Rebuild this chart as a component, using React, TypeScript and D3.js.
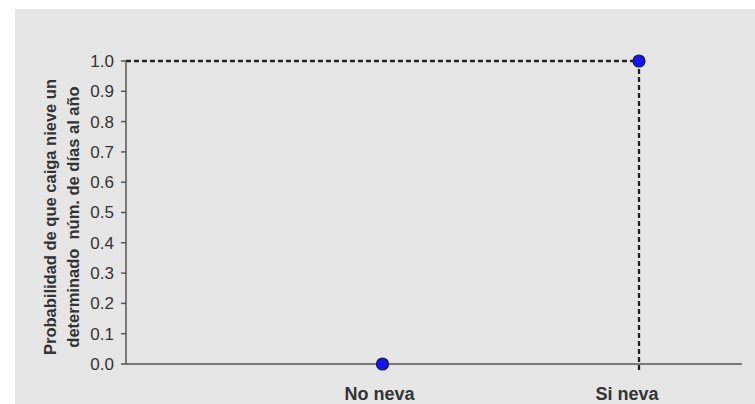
import React from "react";
import * as d3 from "d3";

const categories = ["", "No neva", "Si neva"];
const values = [null, 0, 1];
const yTicks = [0, 0.1, 0.2, 0.3, 0.4, 0.5, 0.6, 0.7, 0.8, 0.9, 1.0];
const yLabelLines = ["Probabilidad de que caiga nieve un", "determinado  núm. de días al año"];

export default function App() {
  const W = 755, H = 404;
  const x0 = 126, xEnd = 742, yTop = 61, yBot = 364;
  const x = d3.scalePoint<string>().domain(categories).range([x0, 639]);
  const y = d3.scaleLinear().domain([0, 1]).range([yBot, yTop]);
  const labelDx = [0, -3, -12];
  const pts = categories
    .map((c, i) => ({ c, v: values[i], i }))
    .filter((d) => d.v !== null) as { c: string; v: number; i: number }[];
  const top = pts.find((d) => d.v === 1)!;
  const axisColor = "#555";
  const textColor = "#333";
  return (
    <div style={{ position: "absolute", left: 0, top: 0 }}>
      <svg width={W} height={H} style={{ display: "block", fontFamily: "Liberation Sans, Arial, sans-serif" }}>
        <rect x={0} y={0} width={W} height={H} fill="#fff" />
        <rect x={15} y={9} width={W - 15} height={H - 9} fill="#e5e5e5" />
        {/* dashed guides */}
        <line x1={x0} x2={x(top.c)!} y1={y(top.v)} y2={y(top.v)} stroke="#222" strokeWidth={2.3} strokeDasharray="5,3" />
        <line x1={x(top.c)!} x2={x(top.c)!} y1={y(top.v)} y2={yBot + 7} stroke="#222" strokeWidth={2.3} strokeDasharray="5,3" />
        {/* axes */}
        <line x1={x0} x2={x0} y1={yTop} y2={yBot} stroke={axisColor} strokeWidth={1.5} />
        <line x1={x0} x2={xEnd} y1={yBot} y2={yBot} stroke={axisColor} strokeWidth={1.5} />
        {yTicks.map((t) => (
          <g key={t}>
            <line x1={x0 - 5} x2={x0} y1={y(t)} y2={y(t)} stroke={axisColor} strokeWidth={1.5} />
            <text x={x0 - 12} y={y(t)} dy="0.35em" textAnchor="end" fontSize={17} fill={textColor}>
              {t.toFixed(1)}
            </text>
          </g>
        ))}
        {categories.map((c, i) =>
          c ? (
            <text key={c} x={x(c)! + labelDx[i]} y={400} textAnchor="middle" fontSize={18} fontWeight="bold" fill={textColor}>
              {c}
            </text>
          ) : null
        )}
        <g transform={`translate(0, 217) rotate(-90)`}>
          {yLabelLines.map((l, i) => (
            <text key={i} x={0} y={56 + i * 23} textAnchor="middle" fontSize={16.5} fontWeight="bold" fill={textColor} style={{ whiteSpace: "pre" }}>
              {l}
            </text>
          ))}
        </g>
        {pts.map((d) => (
          <circle key={d.c} cx={x(d.c)!} cy={y(d.v)} r={6} fill="#1414f0" stroke="#1a1a3a" strokeWidth={1.2} />
        ))}
      </svg>
    </div>
  );
}
